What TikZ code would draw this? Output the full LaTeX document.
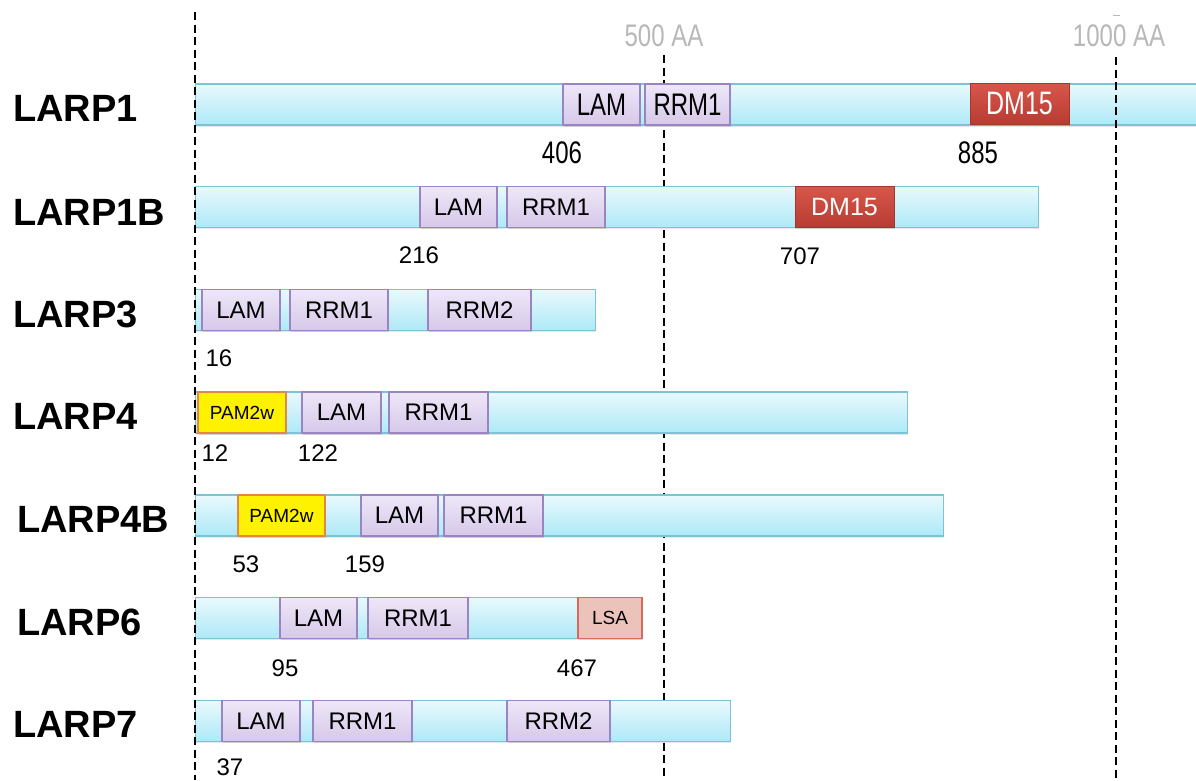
\documentclass[tikz,border=0pt]{standalone}
\usepackage{fontspec}
\setmainfont{Liberation Sans}
\usetikzlibrary{shadows}
\definecolor{barTop}{HTML}{E9F9FD}
\definecolor{barBot}{HTML}{ADE9F7}
\definecolor{barLine}{HTML}{7DC3D6}
\definecolor{domTop}{HTML}{EEE7F7}
\definecolor{domBot}{HTML}{D6C8EA}
\definecolor{domLine}{HTML}{9A84C2}
\definecolor{dmTop}{HTML}{D9564A}
\definecolor{dmBot}{HTML}{B63C33}
\definecolor{pamLine}{HTML}{E0874A}
\definecolor{lsaFill}{HTML}{EBC3BB}
\definecolor{lsaLine}{HTML}{D66A5C}
\definecolor{axisGray}{HTML}{B8B8B8}
\tikzset{
  bar/.style={draw=barLine, line width=1.1pt, top color=barTop, bottom color=barBot,
    rectangle, inner sep=0pt, anchor=west, minimum height=41pt,
    drop shadow={opacity=0.18, shadow xshift=0pt, shadow yshift=-1.5pt}},
  dom/.style={draw=domLine, line width=1.1pt, top color=domTop, bottom color=domBot,
    rectangle, inner sep=0pt, minimum height=41pt, font=\fontsize{24}{24}\selectfont,
    drop shadow={opacity=0.25, shadow xshift=1pt, shadow yshift=-1.5pt}},
  dm/.style={draw=dmBot!90!black, line width=0.6pt, top color=dmTop, bottom color=dmBot,
    rectangle, inner sep=0pt, minimum height=41pt, text=white,
    font=\fontsize{25}{25}\selectfont,
    drop shadow={opacity=0.25, shadow xshift=1pt, shadow yshift=-1.5pt}},
  pam/.style={draw=pamLine, line width=1.1pt, fill=yellow,
    rectangle, inner sep=0pt, minimum height=41pt, font=\fontsize{19}{19}\selectfont,
    drop shadow={opacity=0.2, shadow xshift=1pt, shadow yshift=-1.5pt}},
  lsa/.style={draw=lsaLine, line width=1.1pt, fill=lsaFill,
    rectangle, inner sep=0pt, minimum height=41pt, font=\fontsize{19}{19}\selectfont,
    drop shadow={opacity=0.2, shadow xshift=1pt, shadow yshift=-1.5pt}},
  title/.style={anchor=west, inner sep=0pt, font=\fontsize{38}{38}\selectfont\bfseries},
  num/.style={inner sep=0pt, font=\fontsize{24}{24}\selectfont},
  axislbl/.style={inner sep=0pt, text=axisGray, font=\fontsize{24}{24}\selectfont},
  guide/.style={black, line width=2.9pt, dash pattern=on 8pt off 4.5pt},
}
\begin{document}
\begin{tikzpicture}[x=1pt,y=-1pt]
\clip (0,0) rectangle (1196,780);
\fill[white] (0,0) rectangle (1196,780);

% guide at 500 AA (behind bars)
\coordinate (g500a) at (664,55);
\coordinate (g500b) at (664,776);
\draw[guide] (g500a) -- (g500b);

% bars
\node[bar, minimum width=1010pt] (b1)  at (195,104.5) {};
\node[bar, minimum width=843pt]  (b1b) at (195,207) {};
\node[bar, minimum width=400pt]  (b3)  at (195,310) {};
\node[bar, minimum width=712pt]  (b4)  at (195,412.5) {};
\node[bar, minimum width=748pt]  (b4b) at (195,515.5) {};
\node[bar, minimum width=446pt]  (b6)  at (195,618) {};
\node[bar, minimum width=535pt]  (b7)  at (195,721) {};

% guides over bars
\coordinate (g0a) at (195,12);
\coordinate (g0b) at (195,780);
\draw[guide] (g0a) -- (g0b);
\coordinate (g1000a) at (1116,57);
\coordinate (g1000b) at (1116,780);
\draw[guide] (g1000a) -- (g1000b);

% axis labels
\node[axislbl] (l500) at (664,36) {\scalebox{1}[1.3]{500 AA}};
\node[axislbl] (l1000) at (1119,36) {\scalebox{1}[1.3]{1000 AA}};
\coordinate (tk1) at (1113,15);
\coordinate (tk2) at (1120,15);
\draw[axisGray, line width=0.8pt] (tk1) -- (tk2);

% titles
\node[title] (t1)  at (13,108) {LARP1};
\node[title] (t1b) at (13,212) {LARP1B};
\node[title] (t3)  at (13,314) {LARP3};
\node[title] (t4)  at (13,416) {LARP4};
\node[title] (t4b) at (17,519) {LARP4B};
\node[title] (t6)  at (17,622) {LARP6};
\node[title] (t7)  at (13,724) {LARP7};

% LARP1
\node[dom, minimum width=77pt] (d1a) at (601.5,104.5) {\scalebox{1}[1.3]{LAM}};
\node[dom, minimum width=85pt] (d1b) at (687.5,104.5) {\scalebox{1}[1.3]{RRM1}};
\node[dm, minimum width=99pt]  (d1c) at (1019.5,103.5) {\scalebox{1}[1.3]{DM15}};
\node[num] (n1a) at (562,153) {\scalebox{1}[1.3]{406}};
\node[num] (n1b) at (978,153) {\scalebox{1}[1.3]{885}};

% LARP1B
\node[dom, minimum width=77pt] (d2a) at (458.5,207) {LAM};
\node[dom, minimum width=98pt] (d2b) at (556,207) {RRM1};
\node[dm, minimum width=99pt]  (d2c) at (844.5,207) {DM15};
\node[num] (n2a) at (419,255) {216};
\node[num] (n2b) at (800,256) {707};

% LARP3
\node[dom, minimum width=78pt]  (d3a) at (241,310) {LAM};
\node[dom, minimum width=98pt]  (d3b) at (339,310) {RRM1};
\node[dom, minimum width=103pt] (d3c) at (479.5,310) {RRM2};
\node[num] (n3a) at (219,358) {16};

% LARP4
\node[pam, minimum width=88pt] (d4a) at (242,412.5) {PAM2w};
\node[dom, minimum width=79pt] (d4b) at (341.5,412.5) {LAM};
\node[dom, minimum width=99pt] (d4c) at (438.5,412.5) {RRM1};
\node[num] (n4a) at (215,453) {12};
\node[num] (n4b) at (318,453) {122};

% LARP4B
\node[pam, minimum width=87pt] (d5a) at (281.5,515.5) {PAM2w};
\node[dom, minimum width=77pt] (d5b) at (399.5,515.5) {LAM};
\node[dom, minimum width=99pt] (d5c) at (493.5,515.5) {RRM1};
\node[num] (n5a) at (246,564) {53};
\node[num] (n5b) at (365,564) {159};

% LARP6
\node[dom, minimum width=77pt]  (d6a) at (318.5,618) {LAM};
\node[dom, minimum width=100pt] (d6b) at (418,618) {RRM1};
\node[lsa, minimum width=64pt]  (d6c) at (610,618) {LSA};
\node[num] (n6a) at (285,668) {95};
\node[num] (n6b) at (577,668) {467};

% LARP7
\node[dom, minimum width=78pt]  (d7a) at (261,721) {LAM};
\node[dom, minimum width=99pt]  (d7b) at (362.5,721) {RRM1};
\node[dom, minimum width=103pt] (d7c) at (558.5,721) {RRM2};
\node[num] (n7a) at (230,767) {37};
\end{tikzpicture}
\end{document}
